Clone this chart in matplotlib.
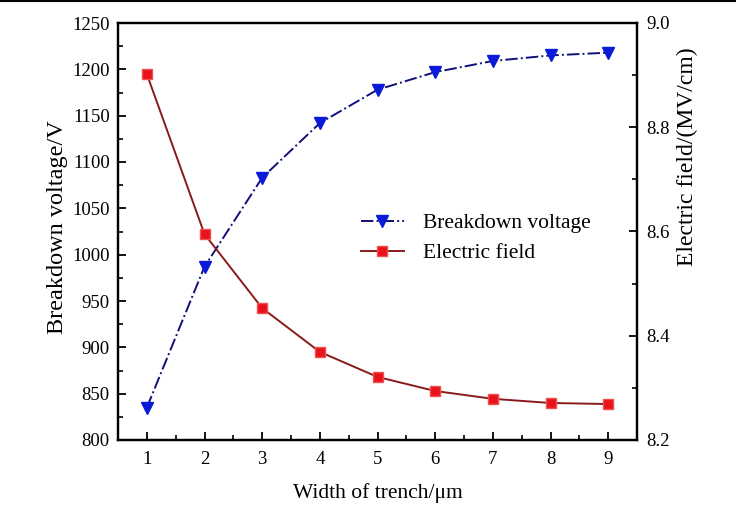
import matplotlib
matplotlib.use("Agg")
import matplotlib.pyplot as plt
from matplotlib.ticker import MultipleLocator, FormatStrFormatter
from matplotlib.lines import Line2D

width = [1, 2, 3, 4, 5, 6, 7, 8, 9]
breakdown_voltage = [835, 987, 1083, 1142, 1178, 1197, 1209, 1215, 1218]
electric_field = [8.902, 8.595, 8.453, 8.369, 8.321, 8.294, 8.279, 8.271, 8.269]

plt.rcParams['font.family'] = ['Liberation Serif', 'DejaVu Serif']

fig = plt.figure(figsize=(7.36, 5.30), dpi=100)
ax = fig.add_axes([118/736, 1-440/530, (637-118)/736, (440-23)/530])
ax2 = ax.twinx()

l1, = ax.plot(width, breakdown_voltage, linestyle='-.', color='#10107a', lw=1.4,
              marker='v', markersize=8, markerfacecolor='#0a1ad8',
              markeredgecolor='#0a1ad8', label='Breakdown voltage', zorder=3)
l2, = ax2.plot(width, electric_field, linestyle='-', color='#8a1a1a', lw=1.4,
               marker='s', markersize=7, markerfacecolor='#e8121a',
               markeredgecolor='#f05050', label='Electric field', zorder=3)

ax.set_xlim(0.5, 9.5)
ax.set_ylim(800, 1250)
ax2.set_ylim(8.2, 9.0)

ax.xaxis.set_major_locator(MultipleLocator(1))
ax.xaxis.set_minor_locator(MultipleLocator(0.5))
ax.yaxis.set_major_locator(MultipleLocator(50))
ax.yaxis.set_minor_locator(MultipleLocator(25))
ax2.yaxis.set_major_locator(MultipleLocator(0.2))
ax2.yaxis.set_minor_locator(MultipleLocator(0.1))
ax2.yaxis.set_major_formatter(FormatStrFormatter('%.1f'))

for a in (ax, ax2):
    a.tick_params(which='major', direction='in', length=6, width=1.3, labelsize=13.5)
    a.tick_params(which='minor', direction='in', length=3.5, width=1.2)
    for s in a.spines.values():
        s.set_linewidth(1.6)
ax.tick_params(axis='x', which='both', top=False)
ax.tick_params(axis='x', pad=8)
ax.tick_params(axis='y', pad=6)
ax2.tick_params(axis='y', pad=7)

ax.set_xlabel('Width of trench/μm', fontsize=15.5, labelpad=11)
ax.set_ylabel('Breakdown voltage/V', fontsize=17.5, labelpad=3)
ax2.set_ylabel('Electric field/(MV/cm)', fontsize=17, labelpad=5)
ax.yaxis.label.set_y(0.51)
ax2.yaxis.label.set_y(0.68)

ax.legend([l1, l2], ['Breakdown voltage', 'Electric field'], frameon=False,
          loc='upper left', bbox_to_anchor=(0.43, 0.59), fontsize=15.5,
          handlelength=2.0, handletextpad=0.9, labelspacing=0.45)

fig.add_artist(Line2D([0, 1], [0.998, 0.998], color='black', lw=1.5,
                      transform=fig.transFigure))

fig.savefig('out.png', dpi=100)
